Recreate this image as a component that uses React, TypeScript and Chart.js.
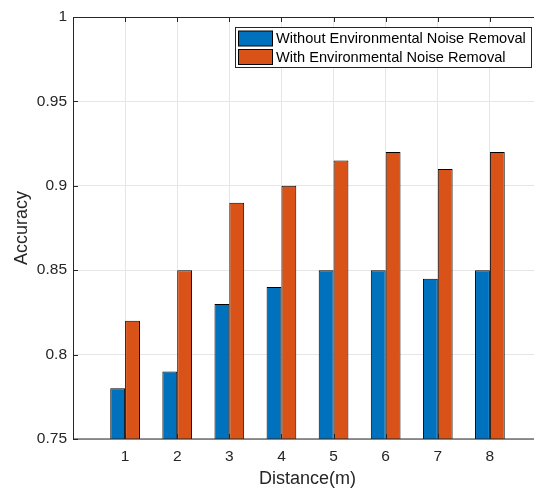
import React, { useEffect, useRef } from "react";
import { Chart, registerables } from "chart.js";

Chart.register(...registerables);

const distances = [1, 2, 3, 4, 5, 6, 7, 8];
const withoutRemoval = [0.78, 0.79, 0.83, 0.84, 0.85, 0.85, 0.845, 0.85];
const withRemoval = [0.82, 0.85, 0.89, 0.9, 0.915, 0.92, 0.91, 0.92];
const seriesLabels = ["Without Environmental Noise Removal", "With Environmental Noise Removal"];
const seriesColors = ["#0072BD", "#D95319"];
const yTicks = [0.75, 0.8, 0.85, 0.9, 0.95, 1];

const FONT = "'Liberation Sans', Arial, Helvetica, sans-serif";
const AXIS = "#262626";

const boxPlugin = {
  id: "matlabBox",
  afterDraw(chart: any) {
    const { ctx, chartArea } = chart;
    const { left, right, top, bottom } = chartArea;
    const xs = chart.scales.x;
    const ys = chart.scales.y;
    ctx.save();
    ctx.strokeStyle = AXIS;
    ctx.lineWidth = 1;
    ctx.strokeRect(Math.round(left) + 0.5, Math.round(top) + 0.5, Math.round(right - left), Math.round(bottom - top) - 0.5);
    ctx.beginPath();
    distances.forEach((d) => {
      const px = Math.round(xs.getPixelForValue(d)) + 0.5;
      ctx.moveTo(px, bottom);
      ctx.lineTo(px, bottom - 5);
      ctx.moveTo(px, top);
      ctx.lineTo(px, top + 5);
    });
    yTicks.forEach((v) => {
      const py = Math.round(ys.getPixelForValue(v)) + 0.5;
      ctx.moveTo(left, py);
      ctx.lineTo(left + 5, py);
      ctx.moveTo(right, py);
      ctx.lineTo(right - 5, py);
    });
    ctx.stroke();

    // legend
    const lx = 235.5, ly = 27.5, lw = 296, lh = 40;
    ctx.fillStyle = "#ffffff";
    ctx.fillRect(lx, ly, lw, lh);
    ctx.strokeStyle = AXIS;
    ctx.strokeRect(lx, ly, lw, lh);
    ctx.font = `14.6px ${FONT}`;
    ctx.textBaseline = "middle";
    ctx.textAlign = "left";
    const rows = [38.5, 57];
    seriesLabels.forEach((lab, i) => {
      const cy = rows[i];
      ctx.fillStyle = seriesColors[i];
      ctx.fillRect(238.5, cy - 7.5, 34, 15);
      ctx.strokeStyle = "#000";
      ctx.strokeRect(238.5, cy - 7.5, 34, 15);
      ctx.fillStyle = "#000";
      ctx.fillText(lab, 276, cy + 0.5);
    });
    ctx.restore();
  },
};

export default function App() {
  const ref = useRef<HTMLCanvasElement | null>(null);
  useEffect(() => {
    if (!ref.current) return;
    const chart = new Chart(ref.current, {
      type: "bar",
      data: {
        datasets: [
          {
            label: seriesLabels[0],
            data: distances.map((d, i) => ({ x: d, y: withoutRemoval[i] })),
            backgroundColor: seriesColors[0],
            borderColor: "#000",
            borderWidth: 1,
            categoryPercentage: 0.57,
            barPercentage: 1,
          },
          {
            label: seriesLabels[1],
            data: distances.map((d, i) => ({ x: d, y: withRemoval[i] })),
            backgroundColor: seriesColors[1],
            borderColor: "#000",
            borderWidth: 1,
            categoryPercentage: 0.57,
            barPercentage: 1,
          },
        ],
      },
      options: {
        animation: false,
        responsive: false,
        devicePixelRatio: 1,
        layout: { padding: { left: 0, top: 17, right: 8, bottom: 0 } },
        plugins: { legend: { display: false }, tooltip: { enabled: false } },
        scales: {
          x: {
            type: "linear",
            min: 0,
            max: 9,
            offset: false,
            afterBuildTicks: (scale: any) => {
              scale.ticks = distances.map((v) => ({ value: v }));
            },
            afterFit: (scale: any) => {
              scale.height = 50;
            },
            grid: { color: "#e6e6e6", drawTicks: false, offset: false },
            border: { display: false },
            ticks: {
              font: { family: FONT, size: 15.5 },
              color: AXIS,
              padding: 8.5,
              maxRotation: 0,
              callback: (v: any) => String(v),
            },
            title: {
              display: true,
              text: "Distance(m)",
              font: { family: FONT, size: 18 },
              color: AXIS,
              padding: { top: 0, bottom: -1 },
            },
          },
          y: {
            min: 0.75,
            max: 1,
            afterBuildTicks: (scale: any) => {
              scale.ticks = yTicks.map((v) => ({ value: v }));
            },
            afterFit: (scale: any) => {
              scale.width = 73;
            },
            grid: { color: "#e6e6e6", drawTicks: false },
            border: { display: false },
            ticks: {
              font: { family: FONT, size: 15.5 },
              color: AXIS,
              padding: 6,
              callback: (v: any) => String(Number(Number(v).toFixed(2))),
            },
            title: {
              display: true,
              text: "Accuracy",
              font: { family: FONT, size: 18 },
              color: AXIS,
              padding: { top: 11.2, bottom: 0 },
            },
          },
        },
      },
      plugins: [boxPlugin],
    });
    return () => chart.destroy();
  }, []);
  return (
    <div style={{ position: "fixed", left: 0, top: 0, width: 534, height: 489, overflow: "hidden", background: "#fff" }}>
      <canvas ref={ref} width={550} height={489} style={{ display: "block", width: 550, height: 489 }} />
    </div>
  );
}
